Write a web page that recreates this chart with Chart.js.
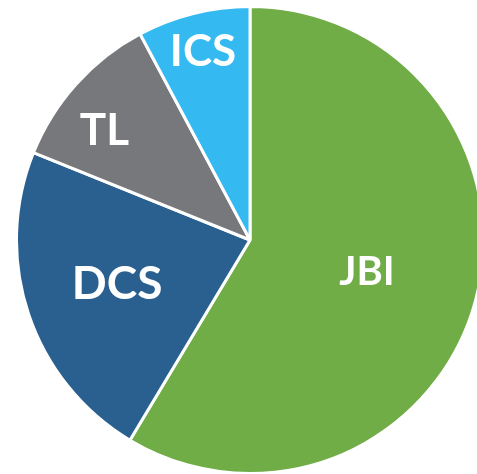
<!DOCTYPE html>
<html>
<head>
<meta charset="utf-8">
<script src="https://cdn.jsdelivr.net/npm/chart.js@4"></script>
<style>
  html, body { margin: 0; padding: 0; background: #fff; overflow: hidden; width: 477px; height: 474px; }
  #wrap { position: absolute; left: 15px; top: 5px; width: 470px; height: 470px; }
</style>
</head>
<body>
<div id="wrap"><canvas id="pieChart"></canvas></div>
<script>
    // Share of each group
    const labels = ['JBI', 'DCS', 'TL', 'ICS'];
    const shares = [58.6, 22.5, 11.1, 7.8];
    const colors = ['#70AD47', '#2A6090', '#77787B', '#35B9F1'];

    // Label placement: fraction of the radius, turn from the slice middle (deg), font size
    const labelRadius = [0.52, 0.6, 0.78, 0.83];
    const labelTurn = [0, 0, -5, 0];
    const labelSize = [40, 46, 44, 44];

    // Draws the white labels inside each slice
    const sliceLabels = {
    id: 'sliceLabels',
    afterDatasetsDraw(chart) {
    const ctx = chart.ctx;
    const meta = chart.getDatasetMeta(0);
    ctx.save();
    ctx.fillStyle = '#ffffff';
    ctx.textAlign = 'center';
    ctx.textBaseline = 'middle';
    meta.data.forEach(function(arc, i) {
    const p = arc.getProps(['x', 'y', 'startAngle', 'endAngle', 'outerRadius'], true);
    const mid = (p.startAngle + p.endAngle) / 2 + labelTurn[i] * Math.PI / 180;
    const r = p.outerRadius * labelRadius[i];
    ctx.font = 'bold ' + labelSize[i] + 'px Lato, "DejaVu Sans", sans-serif';
    ctx.fillText(chart.data.labels[i], p.x + Math.cos(mid) * r, p.y + Math.sin(mid) * r);
});
    ctx.restore();
}
};

    new Chart(document.getElementById('pieChart'), {
    type: 'pie',
    data: {
    labels: labels,
    datasets: [{
    data: shares,
    backgroundColor: colors,
    borderColor: '#ffffff',
    borderWidth: 3
}]
},
    options: {
    responsive: true,
    maintainAspectRatio: false,
    animation: false,
    layout: { padding: 0 },
    plugins: {
    legend: { display: false },
    tooltip: { enabled: false }
}
},
    plugins: [sliceLabels]
});
</script>
</body>
</html>
